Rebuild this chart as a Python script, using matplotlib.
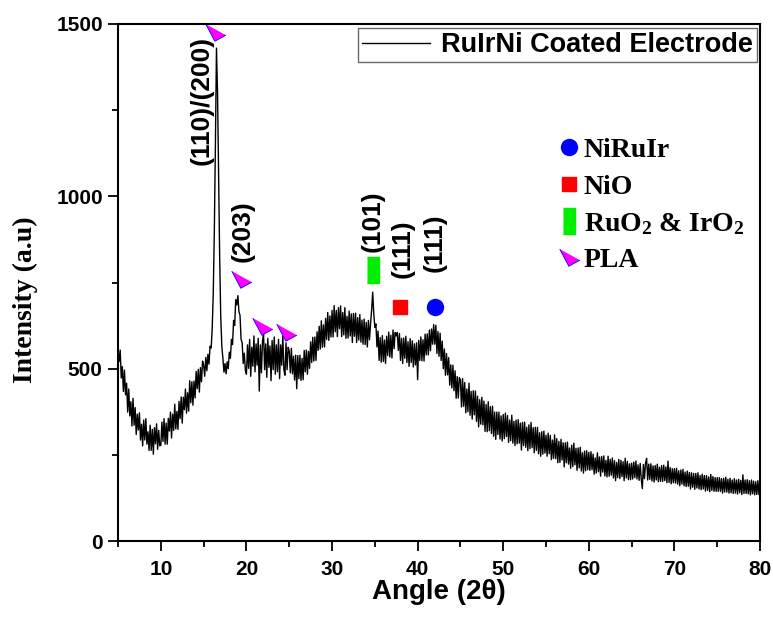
import numpy as np
import matplotlib.pyplot as plt
from matplotlib.lines import Line2D
from matplotlib.ticker import MultipleLocator

plt.rcParams['font.family'] = ['Liberation Sans', 'DejaVu Sans']
plt.rcParams['font.weight'] = 'bold'
plt.rcParams['mathtext.default'] = 'regular'

# XRD scan, 5-80 deg, 0.125 deg steps (two lines = 5 deg)
angle_start, angle_stop = 5.0, 80.0
intensity = [
    552, 521, 554, 473, 506, 434, 496, 424, 458, 374, 441, 363, 404, 334, 414, 336, 387, 309, 368, 322,
    372, 293, 339, 276, 351, 293, 355, 281, 317, 263, 336, 263, 324, 252, 329, 282, 340, 266, 321, 276,
    278, 345, 289, 355, 281, 342, 281, 356, 319, 374, 299, 368, 321, 397, 325, 376, 324, 405, 355, 418,
    342, 417, 381, 441, 371, 430, 377, 465, 401, 462, 394, 464, 415, 492, 442, 498, 432, 503, 462, 522,
    510, 478, 533, 494, 542, 513, 565, 560, 615, 720, 900, 1150, 1430, 1300, 1050, 820, 650, 565, 530, 490,
    515, 485, 520, 500, 548, 530, 585, 570, 640, 625, 700, 685, 712, 665, 655, 585, 575, 515, 545, 495,
    484, 569, 501, 585, 478, 562, 507, 595, 491, 572, 510, 588, 435, 569, 488, 579, 600, 497, 572, 475,
    588, 504, 566, 465, 582, 497, 592, 484, 569, 491, 585, 471, 569, 510, 595, 497, 481, 575, 497, 562,
    552, 488, 559, 485, 536, 467, 539, 442, 538, 471, 539, 466, 530, 468, 553, 491, 554, 484, 550, 501,
    578, 518, 591, 522, 592, 524, 607, 553, 623, 557, 639, 562, 627, 563, 646, 585, 663, 582, 653, 592,
    669, 592, 683, 607, 669, 593, 677, 616, 682, 593, 663, 598, 677, 588, 652, 589, 667, 595, 659, 576,
    660, 594, 661, 576, 648, 583, 657, 577, 641, 571, 644, 570, 634, 563, 640, 584, 630, 670, 722, 660,
    620, 630, 563, 609, 524, 590, 519, 596, 521, 583, 515, 594, 538, 606, 534, 597, 531, 612, 558, 605,
    595, 605, 553, 602, 524, 588, 515, 589, 530, 594, 518, 578, 507, 587, 518, 581, 505, 572, 511, 575,
    468, 582, 524, 592, 523, 584, 522, 600, 540, 601, 540, 612, 552, 615, 571, 628, 571, 626, 544, 608,
    536, 603, 524, 580, 500, 557, 481, 544, 482, 532, 452, 511, 444, 510, 436, 494, 414, 477, 415, 474,
    468, 389, 471, 391, 460, 372, 441, 375, 458, 365, 434, 354, 436, 366, 435, 347, 420, 331, 410, 339,
    417, 337, 406, 318, 396, 317, 404, 320, 390, 312, 391, 304, 374, 295, 374, 309, 374, 296, 363, 290,
    367, 297, 371, 303, 364, 286, 351, 291, 365, 284, 347, 277, 351, 282, 352, 284, 342, 264, 344, 277,
    345, 272, 330, 262, 337, 268, 344, 271, 329, 256, 330, 263, 330, 253, 314, 246, 317, 252, 319, 255,
    307, 246, 313, 253, 306, 236, 293, 240, 308, 239, 297, 227, 289, 228, 295, 235, 285, 215, 285, 227,
    287, 223, 270, 211, 278, 216, 284, 221, 269, 205, 270, 212, 272, 203, 256, 197, 261, 204, 262, 207,
    257, 205, 259, 207, 252, 194, 241, 197, 256, 201, 244, 188, 245, 200, 247, 189, 234, 186, 246, 188,
    237, 191, 241, 183, 233, 175, 228, 184, 237, 181, 234, 187, 230, 175, 240, 183, 231, 178, 224, 178,
    226, 180, 229, 184, 232, 180, 221, 176, 225, 180, 152, 222, 181, 226, 240, 177, 223, 179, 224, 174,
    218, 171, 219, 177, 223, 172, 214, 173, 219, 173, 220, 175, 215, 169, 232, 170, 213, 166, 210, 169,
    210, 168, 211, 165, 204, 160, 206, 165, 208, 160, 200, 158, 203, 159, 199, 151, 198, 156, 196, 150,
    196, 154, 198, 151, 190, 149, 194, 151, 190, 145, 190, 147, 186, 143, 193, 147, 187, 144, 184, 144,
    184, 144, 184, 144, 181, 139, 182, 142, 185, 142, 179, 139, 182, 140, 177, 138, 181, 139, 177, 136,
    179, 140, 176, 135, 192, 138, 177, 138, 178, 137, 175, 134, 177, 137, 174, 134, 172, 135, 175, 135,
    150,
]
two_theta = np.linspace(angle_start, angle_stop, len(intensity))

# phase markers
pla_angle = [16.3, 19.4, 21.8, 24.6]
pla_height = [1474, 757, 621, 603]
ruo2_angle = [34.8]
ruo2_height = [786]
nio_angle = [37.9]
nio_height = [679]
niruir_angle = [42.0]
niruir_height = [679]

# (hkl) labels
hkl_text = ['(110)/(200)', '(203)', '(101)', '(111)', '(111)']
hkl_angle = [14.8, 19.5, 34.7, 38.2, 42.0]
hkl_base = [1091, 809, 838, 763, 780]

tri = [(-9.67, 9.33), (-0.67, -7.67), (10.33, -1.67)]
bar = [(-0.45, -1), (0.45, -1), (0.45, 1), (-0.45, 1)]

fig = plt.figure(figsize=(7.73, 6.28), dpi=100)
ax = fig.add_axes([0.1527, 0.1385, 0.8305, 0.8233])

line, = ax.plot(two_theta, intensity, color='black', lw=1.0)

ax.plot(pla_angle, pla_height, ls='none', marker=tri, ms=15, mfc='#ff00ff', mec='#0000ff', mew=0.6)
ax.plot(ruo2_angle, ruo2_height, ls='none', marker=bar, ms=19, mfc='#00ee00', mec='#00ee00')
ax.plot(nio_angle, nio_height, ls='none', marker='s', ms=10, mfc='#ff0000', mec='#ff0000')
ax.plot(niruir_angle, niruir_height, ls='none', marker='o', ms=11.5, mfc='#0000ff', mec='#0000ff')

for t, a, b in zip(hkl_text, hkl_angle, hkl_base):
    ax.text(a, b, t, rotation=90, ha='center', va='bottom', fontsize=19, fontweight='bold')

ax.set_xlim(5, 80)
ax.set_ylim(0, 1500)
ax.xaxis.set_major_locator(MultipleLocator(10))
ax.xaxis.set_minor_locator(MultipleLocator(5))
ax.yaxis.set_major_locator(MultipleLocator(500))
ax.yaxis.set_minor_locator(MultipleLocator(250))
ax.tick_params(which='major', direction='out', length=7, width=1.3, labelsize=15, pad=4)
ax.tick_params(which='minor', direction='out', length=4, width=1.3)
ax.tick_params(axis='x', pad=7)
for lab in ax.get_xticklabels() + ax.get_yticklabels():
    lab.set_fontweight('bold')
for s in ax.spines.values():
    s.set_linewidth(1.5)

ax.set_xlabel('Angle (2θ)', fontsize=20, fontweight='bold', labelpad=0)
ax.set_ylabel('Intensity (a.u)', fontsize=20, fontweight='bold', fontfamily='Liberation Serif')
ax.yaxis.set_label_coords(-0.125, 0.466)

leg1 = ax.legend([line], ['RuIrNi Coated Electrode'], loc='upper right',
                 bbox_to_anchor=(0.995, 0.992), borderaxespad=0, fancybox=False,
                 edgecolor='#444444', handlelength=2.5, handletextpad=0.4,
                 borderpad=0.15, prop={'size': 19.5, 'weight': 'bold'})
leg1.get_frame().set_linewidth(1.0)
ax.add_artist(leg1)

handles = [
    Line2D([], [], ls='none', marker='o', ms=11.5, mfc='#0000ff', mec='#0000ff'),
    Line2D([], [], ls='none', marker='s', ms=10, mfc='#ff0000', mec='#ff0000'),
    Line2D([], [], ls='none', marker=bar, ms=19, mfc='#00ee00', mec='#00ee00'),
    Line2D([], [], ls='none', marker=tri, ms=15, mfc='#ff00ff', mec='#0000ff', mew=0.6),
]
labels = ['NiRuIr', 'NiO', 'RuO$_2$ & IrO$_2$', 'PLA']
ax.legend(handles, labels, loc='upper left', bbox_to_anchor=(0.663, 0.807),
          frameon=False, handlelength=0.8, handletextpad=0.15, labelspacing=0.4,
          borderpad=0, prop={'family': 'Liberation Serif', 'size': 20, 'weight': 'bold'})

fig.savefig('out.png', dpi=100)
